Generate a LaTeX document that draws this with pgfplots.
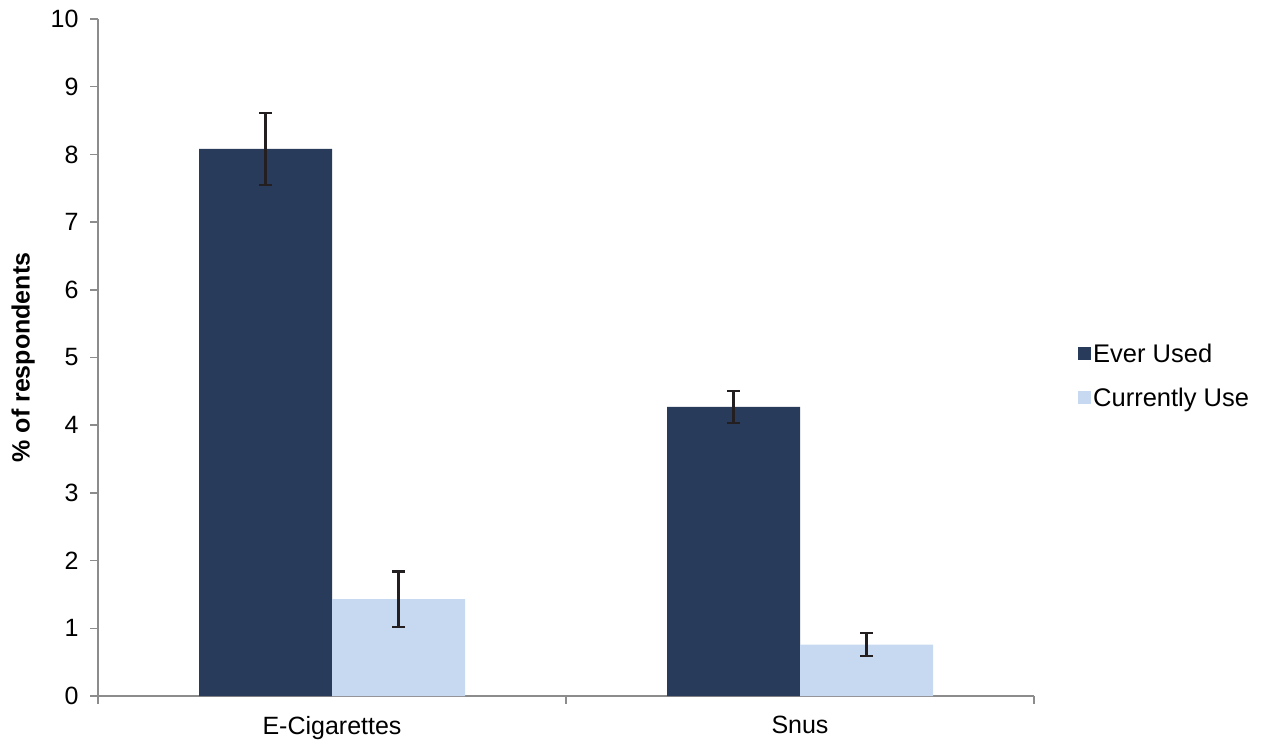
\documentclass[border=0pt]{standalone}
\usepackage{pgfplots}
\pgfplotsset{compat=1.18}
\usepackage{fontspec}
\setmainfont{Liberation Sans}
\definecolor{ever}{HTML}{293B5A}
\definecolor{curr}{HTML}{C6D9F0}
\definecolor{axgray}{HTML}{8C8C8C}
\definecolor{errc}{HTML}{231F20}
\begin{document}
\begin{tikzpicture}
\useasboundingbox (-98pt,-49pt) rectangle (1173pt,696pt);
\begin{axis}[
  scale only axis, width=936pt, height=677pt,
  at={(0,0)}, anchor=south west,
  ymin=0, ymax=10, ytick={0,1,...,10},
  xmin=-0.5, xmax=1.5,
  xtick={0,1}, xticklabels={E-Cigarettes,Snus},
  minor xtick={-0.5,0.5,1.5},
  axis lines*=left,
  axis line style={axgray, line width=1.5pt, -},
  every tick/.style={axgray, line width=1.5pt},
  major x tick style={draw=none},
  tick align=outside,
  major tick length=8pt, minor tick length=8pt,
  font=\fontsize{25}{30}\selectfont,
  /pgf/number format/assume math mode=true,
  yticklabel style={xshift=-8pt},
  xticklabel style={yshift=-9pt},
  ylabel={\bfseries \% of respondents},
  ylabel style={yshift=9pt},
  ybar, bar width=133pt,
  legend style={at={(1.047,0.473)}, anchor=west, draw=none, fill=none,
    font=\fontsize{25.5}{30}\selectfont, row sep=20pt, inner sep=0pt,
    /tikz/every even column/.append style={column sep=7pt}},
  legend cell align=left,
  legend image code/.code={\fill[#1] (0pt,-6.5pt) rectangle (13pt,6.5pt);},
  error bars/error bar style={errc, line width=2.2pt},
  error bars/error mark options={errc, mark size=6.5pt, line width=2.2pt, rotate=90},
]
\addplot[fill=ever, draw=none, bar shift=-66.5pt,
  error bars/.cd, y dir=both, y explicit]
  coordinates {(0,8.08) +- (0,0.53) (1,4.27) +- (0,0.235)};
\addlegendentry{Ever Used}
\addplot[fill=curr, draw=none, bar shift=66.5pt,
  error bars/.cd, y dir=both, y explicit]
  coordinates {(0,1.43) +- (0,0.41) (1,0.76) +- (0,0.17)};
\addlegendentry{Currently Use}
\end{axis}
\end{tikzpicture}
\end{document}
